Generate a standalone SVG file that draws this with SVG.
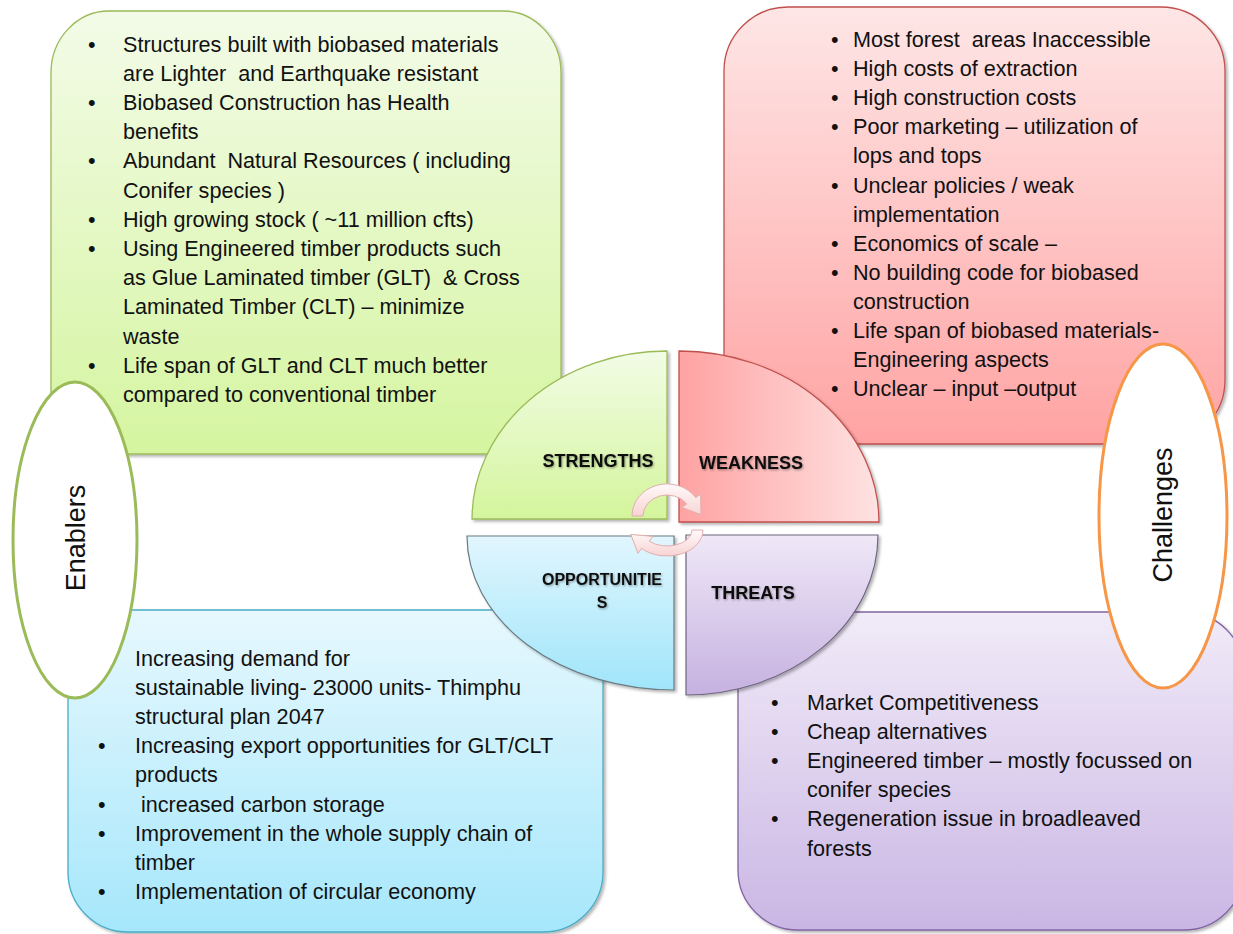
<svg xmlns="http://www.w3.org/2000/svg" width="1233" height="934" viewBox="0 0 1233 934">
<defs>
<style>
.t{font-family:"Liberation Sans",Arial,sans-serif;font-size:21.6px;fill:#111;white-space:pre}
.lbl{font-family:"Liberation Sans",Arial,sans-serif;font-weight:bold;font-size:18px;fill:#111;filter:url(#tsh)}
.ell{font-family:"Liberation Sans",Arial,sans-serif;font-size:27px;fill:#111}
.box{filter:url(#sh)}
</style>
<filter id="sh" x="-5%" y="-5%" width="112%" height="112%"><feDropShadow dx="2" dy="2" stdDeviation="1.8" flood-color="#000" flood-opacity="0.3"/></filter>
<filter id="tsh" x="-10%" y="-20%" width="130%" height="160%"><feDropShadow dx="1" dy="1.2" stdDeviation="0.8" flood-color="#000" flood-opacity="0.35"/></filter>
<linearGradient id="gG" x1="0" y1="0" x2="0" y2="1"><stop offset="0" stop-color="#f3fbe8"/><stop offset="1" stop-color="#d5f5a0"/></linearGradient>
<linearGradient id="gR" x1="0" y1="0" x2="0" y2="1"><stop offset="0" stop-color="#fee6e6"/><stop offset="1" stop-color="#ffa3a3"/></linearGradient>
<linearGradient id="gB" x1="0" y1="0" x2="0" y2="1"><stop offset="0" stop-color="#e7f8fe"/><stop offset="1" stop-color="#a6e7fb"/></linearGradient>
<linearGradient id="gP" x1="0" y1="0" x2="0" y2="1"><stop offset="0" stop-color="#f1ebf8"/><stop offset="1" stop-color="#cab6e4"/></linearGradient>
<linearGradient id="qS" x1="0" y1="0" x2="0" y2="1"><stop offset="0" stop-color="#f2fce6"/><stop offset="1" stop-color="#d4f59c"/></linearGradient>
<linearGradient id="qW" x1="0" y1="0" x2="1" y2="0"><stop offset="0" stop-color="#ffa2a2"/><stop offset="1" stop-color="#fee2e2"/></linearGradient>
<linearGradient id="qO" x1="0" y1="0" x2="0" y2="1"><stop offset="0" stop-color="#e1f6fe"/><stop offset="1" stop-color="#a0e5fa"/></linearGradient>
<linearGradient id="qT" x1="0" y1="0" x2="0" y2="1"><stop offset="0" stop-color="#efe8f7"/><stop offset="1" stop-color="#c6b1e0"/></linearGradient>
<linearGradient id="ar" x1="0" y1="0" x2="0" y2="1"><stop offset="0" stop-color="#fffafa"/><stop offset="1" stop-color="#f8d3d3"/></linearGradient>
</defs>

<g id="strengths-box">
<rect class="box" x="51" y="11" width="510" height="443" rx="58" ry="62" fill="url(#gG)" stroke="#9bbb59" stroke-width="1.3"/>
<text class="t">
<tspan x="88" y="51.5">•</tspan><tspan x="123" y="51.5">Structures built with biobased materials</tspan>
<tspan x="123" y="80.7">are Lighter  and Earthquake resistant</tspan>
<tspan x="88" y="109.9">•</tspan><tspan x="123" y="109.9">Biobased Construction has Health</tspan>
<tspan x="123" y="139.1">benefits</tspan>
<tspan x="88" y="168.3">•</tspan><tspan x="123" y="168.3">Abundant  Natural Resources ( including</tspan>
<tspan x="123" y="197.5">Conifer species )</tspan>
<tspan x="88" y="226.7">•</tspan><tspan x="123" y="226.7">High growing stock ( ~11 million cfts)</tspan>
<tspan x="88" y="255.9">•</tspan><tspan x="123" y="255.9">Using Engineered timber products such</tspan>
<tspan x="123" y="285.1">as Glue Laminated timber (GLT)  &amp; Cross</tspan>
<tspan x="123" y="314.3">Laminated Timber (CLT) – minimize</tspan>
<tspan x="123" y="343.5">waste</tspan>
<tspan x="88" y="372.7">•</tspan><tspan x="123" y="372.7">Life span of GLT and CLT much better</tspan>
<tspan x="123" y="401.9">compared to conventional timber</tspan>
</text>
</g>

<g id="weakness-box">
<rect class="box" x="724" y="7" width="501" height="437" rx="64" ry="64" fill="url(#gR)" stroke="#c0504d" stroke-width="1.3"/>
<text class="t">
<tspan x="831" y="47">•</tspan><tspan x="853" y="47">Most forest  areas Inaccessible</tspan>
<tspan x="831" y="76.1">•</tspan><tspan x="853" y="76.1">High costs of extraction</tspan>
<tspan x="831" y="105.2">•</tspan><tspan x="853" y="105.2">High construction costs</tspan>
<tspan x="831" y="134.3">•</tspan><tspan x="853" y="134.3">Poor marketing – utilization of</tspan>
<tspan x="853" y="163.4">lops and tops</tspan>
<tspan x="831" y="192.5">•</tspan><tspan x="853" y="192.5">Unclear policies / weak</tspan>
<tspan x="853" y="221.6">implementation</tspan>
<tspan x="831" y="250.7">•</tspan><tspan x="853" y="250.7">Economics of scale –</tspan>
<tspan x="831" y="279.8">•</tspan><tspan x="853" y="279.8">No building code for biobased</tspan>
<tspan x="853" y="308.9">construction</tspan>
<tspan x="831" y="338">•</tspan><tspan x="853" y="338">Life span of biobased materials-</tspan>
<tspan x="853" y="367.1">Engineering aspects</tspan>
<tspan x="831" y="396.2">•</tspan><tspan x="853" y="396.2">Unclear – input –output</tspan>
</text>
</g>

<g id="opportunities-box">
<rect class="box" x="68" y="610" width="535" height="322" rx="60" ry="60" fill="url(#gB)" stroke="#4bacc6" stroke-width="1.3"/>
<text class="t">
<tspan x="135" y="666">Increasing demand for</tspan>
<tspan x="135" y="695.1">sustainable living- 23000 units- Thimphu</tspan>
<tspan x="135" y="724.2">structural plan 2047</tspan>
<tspan x="98" y="753.3">•</tspan><tspan x="135" y="753.3">Increasing export opportunities for GLT/CLT</tspan>
<tspan x="135" y="782.4">products</tspan>
<tspan x="98" y="811.5">•</tspan><tspan x="135" y="811.5"> increased carbon storage</tspan>
<tspan x="98" y="840.6">•</tspan><tspan x="135" y="840.6">Improvement in the whole supply chain of</tspan>
<tspan x="135" y="869.7">timber</tspan>
<tspan x="98" y="898.8">•</tspan><tspan x="135" y="898.8">Implementation of circular economy</tspan>
</text>
</g>

<g id="threats-box">
<rect class="box" x="738" y="612" width="506" height="318" rx="60" ry="60" fill="url(#gP)" stroke="#8064a2" stroke-width="1.3"/>
<text class="t">
<tspan x="771" y="710">•</tspan><tspan x="807" y="710">Market Competitiveness</tspan>
<tspan x="771" y="739.1">•</tspan><tspan x="807" y="739.1">Cheap alternatives</tspan>
<tspan x="771" y="768.2">•</tspan><tspan x="807" y="768.2">Engineered timber – mostly focussed on</tspan>
<tspan x="807" y="797.3">conifer species</tspan>
<tspan x="771" y="826.4">•</tspan><tspan x="807" y="826.4">Regeneration issue in broadleaved</tspan>
<tspan x="807" y="855.5">forests</tspan>
</text>
</g>

<g id="enablers">
<ellipse cx="75" cy="540" rx="62" ry="158" fill="#fff" stroke="#9bbb59" stroke-width="3"/>
<text class="ell" transform="translate(85,538) rotate(-90)" text-anchor="middle">Enablers</text>
</g>

<g id="challenges">
<ellipse cx="1163" cy="516" rx="64" ry="172" fill="#fff" stroke="#f79646" stroke-width="3"/>
<text class="ell" transform="translate(1172,515) rotate(-90)" text-anchor="middle">Challenges</text>
</g>

<g id="strengths">
<path class="box" d="M667,519 L472,519 A195,168 0 0 1 667,351 Z" fill="url(#qS)" stroke="#9bbb59" stroke-width="1.3"/>
<text class="lbl" x="598" y="467" text-anchor="middle">STRENGTHS</text>
</g>

<g id="weakness">
<path class="box" d="M679,522 L679,351 A200,171 0 0 1 879,522 Z" fill="url(#qW)" stroke="#c0504d" stroke-width="1.3"/>
<text class="lbl" x="699" y="469">WEAKNESS</text>
</g>

<g id="opportunities">
<path class="box" d="M674,536 L674,690 A207,154 0 0 1 467,536 Z" fill="url(#qO)" stroke="#6b7b80" stroke-width="1.2"/>
<text class="lbl" x="602" y="585" text-anchor="middle" style="font-size:16px">OPPORTUNITIE</text>
<text class="lbl" x="602" y="608" text-anchor="middle" style="font-size:16px">S</text>
</g>

<g id="threats">
<path class="box" d="M686,535 L878,535 A192,160 0 0 1 686,695 Z" fill="url(#qT)" stroke="#6f6680" stroke-width="1.2"/>
<text class="lbl" x="753" y="599" text-anchor="middle">THREATS</text>
</g>

<g id="connectors">
<path d="M632,516 A35,32 0 0 1 695.7,497.6 L700.6,494.2 L701,514.7 L681.8,507.4 L686.7,504 A24,21 0 0 0 643,516 Z" fill="url(#ar)" stroke="#e2aeae" stroke-width="1"/>
<path d="M703,530 A36,26 0 0 1 641.5,548.4 L638,553.3 L630.8,534.4 L652.8,536.4 L649.3,541.3 A25,16 0 0 0 692,530 Z" fill="url(#ar)" stroke="#e2aeae" stroke-width="1"/>
</g>
</svg>
